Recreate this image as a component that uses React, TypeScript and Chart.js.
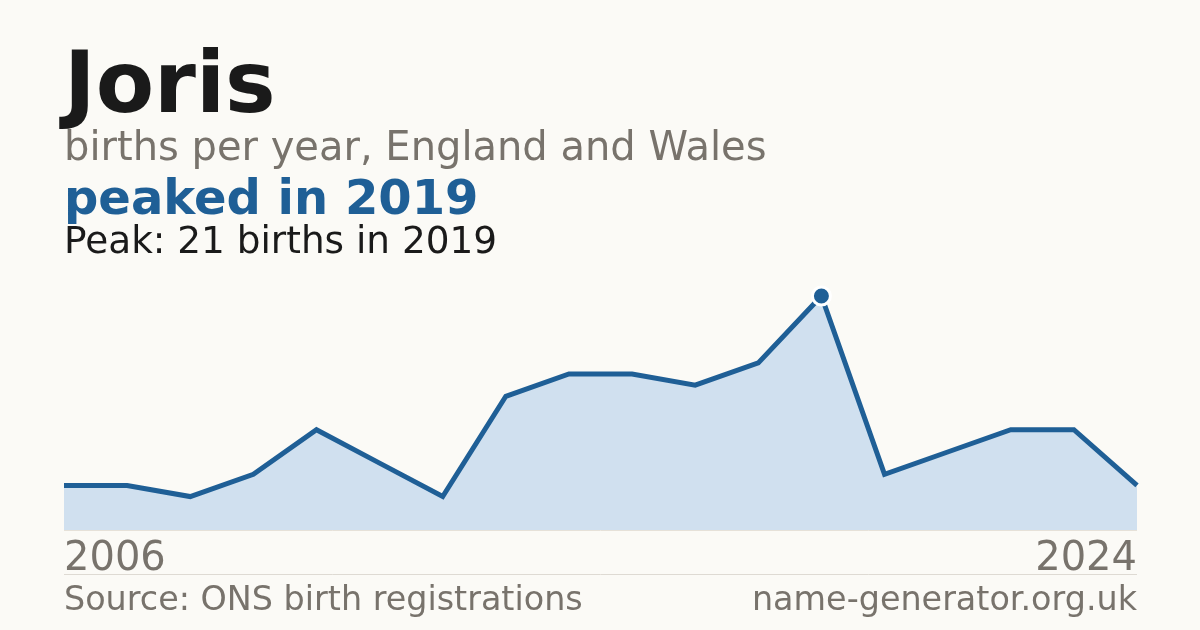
import React, { useEffect, useRef } from 'react';
import { Chart, registerables } from 'chart.js';

Chart.register(...registerables);

// data (one year is absent from the series)
const years = ['2006', '2007', '2008', '2009', '2010', '2011', '2012', '2013', '2014', '2015', '2016', '2017', '2019', '2020', '2021', '2022', '2023', '2024'];
const births = [4, 4, 3, 5, 9, 6, 3, 12, 14, 14, 13, 15, 21, 5, 7, 9, 9, 4];
const yTicks = [0, 21];

const peakIndex = births.indexOf(Math.max(...births));

const BG = '#fbfaf6';
const BLUE = '#1f5f96';
const GREY = '#78736c';
const INK = '#1a1a1a';
const FONT = '"DejaVu Sans", sans-serif';

const textPlugin = {
  id: 'cardText',
  beforeDraw(chart: Chart) {
    const { ctx, width, height } = chart;
    ctx.save();
    ctx.fillStyle = BG;
    ctx.fillRect(0, 0, width, height);
    ctx.restore();
  },
  afterDraw(chart: Chart) {
    const { ctx, chartArea } = chart;
    const { left, right, bottom } = chartArea;
    ctx.save();
    ctx.textBaseline = 'alphabetic';
    ctx.textAlign = 'left';

    ctx.fillStyle = INK;
    ctx.font = `bold 85px ${FONT}`;
    ctx.fillText('Joris', 64, 112);

    ctx.fillStyle = GREY;
    ctx.font = `40px ${FONT}`;
    ctx.fillText('births per year, England and Wales', 64, 160);

    ctx.fillStyle = BLUE;
    ctx.font = `bold 48px ${FONT}`;
    ctx.fillText('peaked in 2019', 64, 214);

    ctx.fillStyle = INK;
    ctx.font = `37.4px ${FONT}`;
    ctx.fillText(`Peak: ${births[peakIndex]} births in 2019`, 64, 253);

    // baseline under the area
    ctx.strokeStyle = '#e6e1d8';
    ctx.lineWidth = 1;
    ctx.beginPath();
    ctx.moveTo(left, bottom + 0.5);
    ctx.lineTo(right, bottom + 0.5);
    ctx.stroke();

    ctx.fillStyle = GREY;
    ctx.font = `40px ${FONT}`;
    ctx.fillText(years[0], left, 570);
    ctx.textAlign = 'right';
    ctx.fillText(years[years.length - 1], right, 570);

    ctx.strokeStyle = '#dedad3';
    ctx.beginPath();
    ctx.moveTo(left, 574.5);
    ctx.lineTo(right, 574.5);
    ctx.stroke();

    ctx.font = `33.4px ${FONT}`;
    ctx.textAlign = 'left';
    ctx.fillText('Source: ONS birth registrations', left, 610);
    ctx.textAlign = 'right';
    ctx.fillText('name-generator.org.uk', right, 610);
    ctx.restore();
  },
};

const App: React.FC = () => {
  const canvasRef = useRef<HTMLCanvasElement>(null);
  const chartRef = useRef<Chart | null>(null);

  useEffect(() => {
    if (!canvasRef.current) return;
    if (chartRef.current) chartRef.current.destroy();

    chartRef.current = new Chart(canvasRef.current, {
      type: 'line',
      data: {
        labels: years,
        datasets: [{
          data: births,
          borderColor: BLUE,
          borderWidth: 5,
          backgroundColor: '#d0e0ef',
          fill: 'origin',
          tension: 0,
          clip: false,
          pointRadius: births.map((_, i) => (i === peakIndex ? 9 : 0)),
          pointHoverRadius: 0,
          pointBackgroundColor: BLUE,
          pointBorderColor: '#ffffff',
          pointBorderWidth: 3,
        }],
      },
      options: {
        responsive: false,
        animation: false,
        events: [],
        layout: { autoPadding: false, padding: { left: 64, right: 63, top: 296, bottom: 100 } },
        scales: {
          x: { type: 'category', display: false, offset: false },
          y: { display: false, min: yTicks[0], max: yTicks[1] },
        },
        plugins: { legend: { display: false }, tooltip: { enabled: false }, title: { display: false } },
      },
      plugins: [textPlugin],
    });

    return () => {
      chartRef.current?.destroy();
      chartRef.current = null;
    };
  }, []);

  return (
    <div style={{ position: 'fixed', left: 0, top: 0, width: 1200, height: 630, background: BG }}>
      <canvas ref={canvasRef} width={1200} height={630} style={{ width: 1200, height: 630 }} />
    </div>
  );
};

export default App;
